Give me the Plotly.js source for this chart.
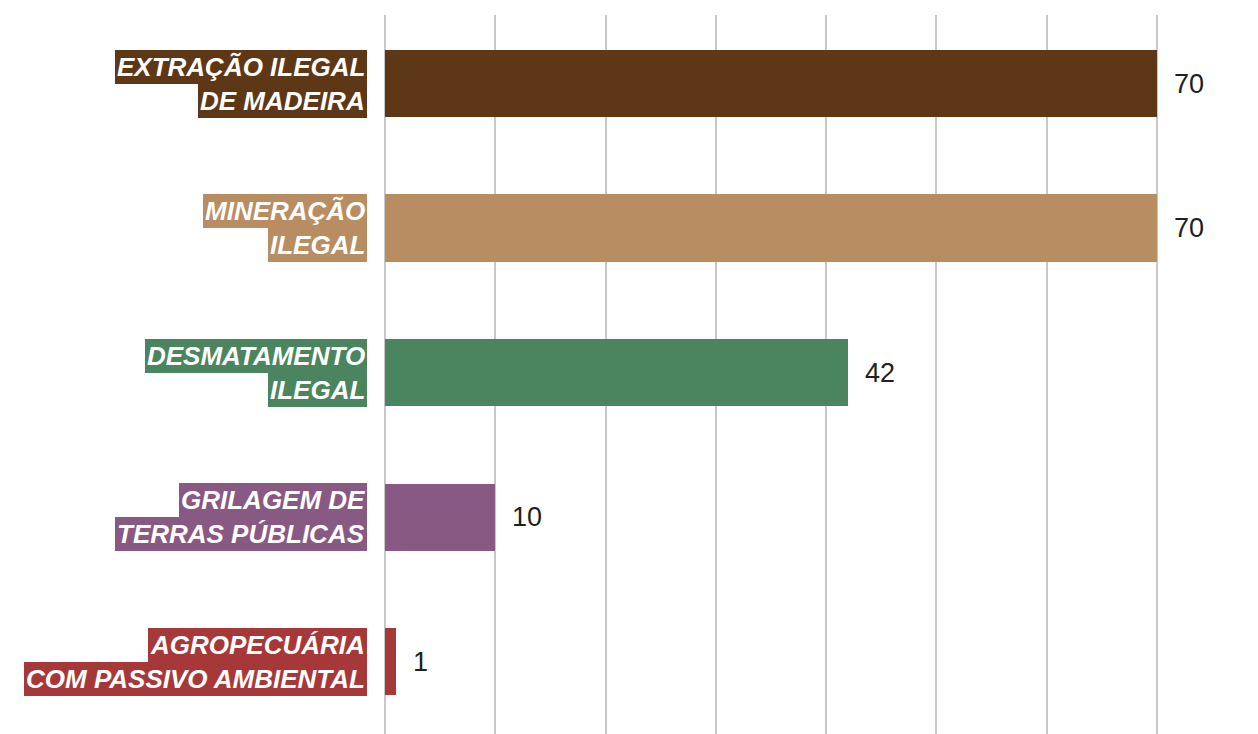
<!DOCTYPE html>
<html>
<head>
<meta charset="utf-8">
<script src="https://cdn.plot.ly/plotly-3.0.1.min.js"></script>
<style>html,body{margin:0;padding:0;background:#fff;}#chart{width:1258px;height:734px;}</style>
</head>
<body>
<div id="chart"></div>
<script>
const categories = ["EXTRAÇÃO ILEGAL DE MADEIRA", "MINERAÇÃO ILEGAL", "DESMATAMENTO ILEGAL", "GRILAGEM DE TERRAS PÚBLICAS", "AGROPECUÁRIA COM PASSIVO AMBIENTAL"];
const labelLine1 = ["EXTRAÇÃO ILEGAL", "MINERAÇÃO", "DESMATAMENTO", "GRILAGEM DE", "AGROPECUÁRIA"];
const labelLine2 = ["DE MADEIRA", "ILEGAL", "ILEGAL", "TERRAS PÚBLICAS", "COM PASSIVO AMBIENTAL"];
const values = [70, 70, 42, 10, 1];
const colors = ["#5e3816", "#b88d62", "#4a855f", "#885982", "#a73839"];
const xTicks = [0, 10, 20, 30, 40, 50, 60, 70];

const trace = {
  type: "bar",
  orientation: "h",
  x: values,
  y: categories,
  marker: {color: colors},
  width: 0.465,
  hoverinfo: "x+y"
};

const labelFont = {family: "Liberation Sans, Arial, sans-serif", size: 26, color: "#ffffff"};
const annotations = [];
categories.forEach((c, i) => {
  annotations.push({
    xref: "paper", yref: "y", x: 0, y: i,
    xanchor: "right", yanchor: "bottom", xshift: -18,
    text: "<b><i>" + labelLine1[i] + "</i></b>",
    showarrow: false, bgcolor: colors[i], borderpad: 2, borderwidth: 0,
    font: labelFont
  });
  annotations.push({
    xref: "paper", yref: "y", x: 0, y: i,
    xanchor: "right", yanchor: "top", xshift: -18,
    text: "<b><i>" + labelLine2[i] + "</i></b>",
    showarrow: false, bgcolor: colors[i], borderpad: 2, borderwidth: 0,
    font: labelFont
  });
  annotations.push({
    xref: "x", yref: "y", x: values[i], y: i,
    xanchor: "left", yanchor: "middle", xshift: 15,
    text: String(values[i]),
    showarrow: false,
    font: {family: "Liberation Sans, Arial, sans-serif", size: 27, color: "#231f20"}
  });
});

const layout = {
  width: 1258, height: 734,
  margin: {l: 385, r: 100, t: 15, b: 0, pad: 0},
  paper_bgcolor: "#ffffff", plot_bgcolor: "#ffffff",
  showlegend: false,
  bargap: 0,
  xaxis: {
    range: [0, 70.1], tickvals: xTicks, showticklabels: false,
    showgrid: true, gridcolor: "#c8c8c8", gridwidth: 2,
    zeroline: true, zerolinecolor: "#c8c8c8", zerolinewidth: 2,
    showline: false, fixedrange: true
  },
  yaxis: {
    type: "category", categoryorder: "array", categoryarray: categories,
    range: [4.5, -0.474], showticklabels: false, showgrid: false,
    zeroline: false, showline: false, fixedrange: true
  },
  annotations: annotations
};

Plotly.newPlot("chart", [trace], layout, {displayModeBar: false, staticPlot: true});
</script>
</body>
</html>
